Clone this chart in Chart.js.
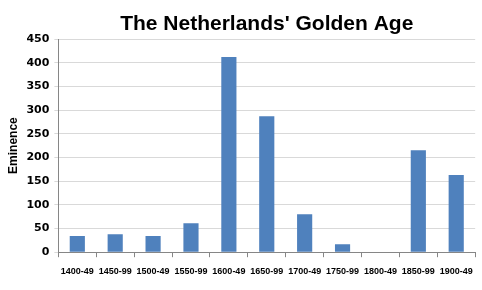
<!DOCTYPE html>
<html>
<head>
<meta charset="utf-8">
<script src="https://cdn.jsdelivr.net/npm/chart.js@4"></script>
<style>
  html, body { margin: 0; padding: 0; background: #fff; }
  #wrap { width: 482px; height: 290px; }
</style>
</head>
<body>
<div id="wrap"><canvas id="c" width="482" height="290"></canvas></div>
<script>
// Eminence per half-century
const periods = ['1400-49', '1450-99', '1500-49', '1550-99', '1600-49', '1650-99',
                 '1700-49', '1750-99', '1800-49', '1850-99', '1900-49'];
const eminence = [34, 38, 34, 61, 412, 287, 80, 17, 0, 215, 163];
const yTicks = [0, 50, 100, 150, 200, 250, 300, 350, 400, 450];
const chartTitle = "The Netherlands' Golden Age";

// title centred over the plot area, like the spreadsheet original
const plotTitle = {
    id: 'plotTitle',
    afterDraw(chart) {
        const ctx = chart.ctx;
        const area = chart.chartArea;
        ctx.save();
        ctx.fillStyle = '#000';
        ctx.font = 'bold 21px "Liberation Sans"';
        ctx.textAlign = 'center';
        ctx.textBaseline = 'middle';
        ctx.fillText(chartTitle, (area.left + area.right) / 2, 24);
        ctx.restore();
    }
};

new Chart(document.getElementById('c'), {
    type: 'bar',
    data: {
        labels: periods,
        datasets: [{
            label: 'Eminence',
            data: eminence,
            backgroundColor: '#4f81bd',
            borderWidth: 0,
            categoryPercentage: 1.0,
            barPercentage: 0.4
        }]
    },
    plugins: [plotTitle],
    options: {
        responsive: false,
        animation: false,
        layout: { padding: { top: 39, right: 6, bottom: 4, left: 6 } },
        plugins: {
            legend: { display: false },
            tooltip: { enabled: false },
            title: { display: false }
        },
        scales: {
            x: {
                grid: { display: true, drawOnChartArea: false, offset: true, color: '#868686', tickLength: 5 },
                border: { color: '#868686' },
                ticks: {
                    color: '#000',
                    maxRotation: 0,
                    autoSkip: false,
                    padding: 9,
                    font: { family: 'Liberation Sans', size: 9, weight: 'bold' }
                }
            },
            y: {
                min: 0,
                max: 450,
                afterBuildTicks: axis => { axis.ticks = yTicks.map(v => ({ value: v })); },
                grid: { color: '#d9d9d9', tickLength: 4 },
                border: { color: '#868686' },
                ticks: {
                    color: '#000',
                    padding: 5,
                    font: { family: 'DejaVu Sans', size: 11, weight: 'bold' }
                },
                title: {
                    display: true,
                    text: 'Eminence',
                    color: '#000',
                    font: { family: 'Liberation Sans', size: 12, weight: 'bold' },
                    padding: { top: 0, bottom: 1 }
                }
            }
        }
    }
});
</script>
</body>
</html>
